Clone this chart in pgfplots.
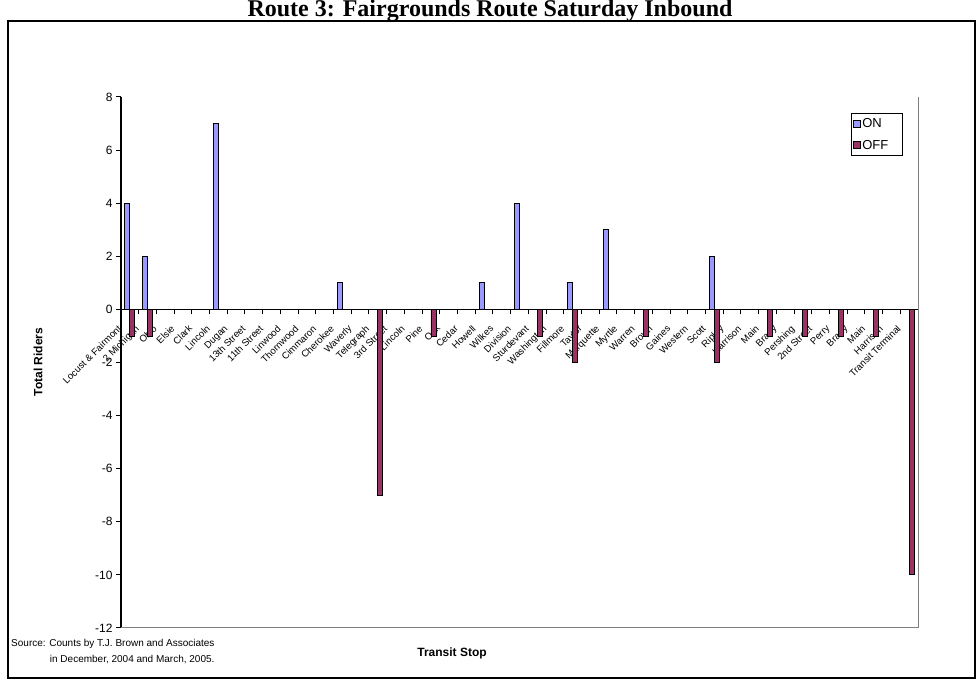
\documentclass[border=0pt]{standalone}
\usepackage{pgfplots}
\pgfplotsset{compat=1.18}
\usepackage{fontspec}
\setmainfont{Liberation Sans}
\newfontfamily\titlefont{Liberation Serif}
\definecolor{oncol}{HTML}{9999FF}
\definecolor{offcol}{HTML}{993366}
\begin{document}
\begin{tikzpicture}[x=1pt,y=1pt]
\useasboundingbox (0,0) rectangle (980,680);
\fill[white] (0,0) rectangle (980,680);
\draw[black, line width=1.5pt] (8,2) rectangle (975,659);
\node[anchor=base, font=\titlefont\bfseries\fontsize{24}{28}\selectfont] at (490,663) {Route 3: Fairgrounds Route Saturday Inbound};
\begin{axis}[
  at={(121pt,52pt)}, anchor=south west,
  scale only axis, width=797pt, height=531pt,
  xmin=0.5, xmax=45.5, ymin=-12, ymax=8,
  axis x line=middle, axis y line=left,
  x axis line style={-, black, line width=1.5pt},
  y axis line style={-, black, line width=1.5pt},
  hide obscured x ticks=false, hide obscured y ticks=false,
  ytick={-12,-10,...,8},
  xtick={0.5,1.5,...,45.5},
  x tick label as interval,
  xticklabels={Locust \& Fairmont, 2 Michigan, Ohio, Elsie, Clark, Lincoln, Dugan, 13th Street, 11th Street, Linwood, Thornwood, Cimmaron, Cherokee, Waverly, Telegraph, 3rd Street, Lincoln, Pine, Oak, Cedar, Howell, Wilkes, Division, Sturdevant, Washington, Fillmore, Taylor, Marquette, Myrtle, Warren, Brown, Gaines, Western, Scott, Ripley, Harrison, Main, Brady, Pershing, 2nd Street, Perry, Brady, Main, Harrison, Transit Terminal},
  xticklabel style={rotate=45, anchor=north east, font=\fontsize{9.6}{11}\selectfont, inner sep=1pt, xshift=-15pt, yshift=3pt},
  yticklabel style={font=\fontsize{12}{14}\selectfont},
  /pgf/number format/assume math mode=true,
  tick align=outside, major tick length=5pt,
  tick style={black, line width=1pt},
  ybar=0pt, bar width=5pt,
  legend image code/.code={\draw[#1,draw=black,line width=0.8pt] (0pt,-3.5pt) rectangle (7pt,3.5pt);},
  legend style={at={(0.916,0.970)}, anchor=north west, draw=black, line width=1pt,
    font=\fontsize{13}{15}\selectfont, inner xsep=1pt, inner ysep=3pt, row sep=7pt},
  legend cell align=left,
  clip=false,
]
\addplot[fill=oncol, draw=black, line width=0.8pt] coordinates {(1,4) (2,2) (6,7) (13,1) (21,1) (23,4) (26,1) (28,3) (34,2)};
\addplot[fill=offcol, draw=black, line width=0.8pt] coordinates {(1,-1) (2,-1) (15,-7) (18,-1) (24,-1) (26,-2) (30,-1) (34,-2) (37,-1) (39,-1) (41,-1) (43,-1) (45,-10)};
\legend{ON\hspace*{18pt}, OFF}
\draw[gray, line width=1pt] (rel axis cs:1,1) -- (rel axis cs:1,0) -- (rel axis cs:0,0);
\end{axis}
\node[rotate=90, font=\bfseries\fontsize{12}{14}\selectfont] at (38,318) {Total Riders};
\node[font=\bfseries\fontsize{12}{14}\selectfont] at (452,27) {Transit Stop};
\node[anchor=base east, font=\fontsize{10}{12}\selectfont] at (218,33) {Source: Counts by T.J. Brown and Associates};
\node[anchor=base east, font=\fontsize{10}{12}\selectfont] at (218,17) {in December, 2004 and March, 2005.};
\end{tikzpicture}
\end{document}
